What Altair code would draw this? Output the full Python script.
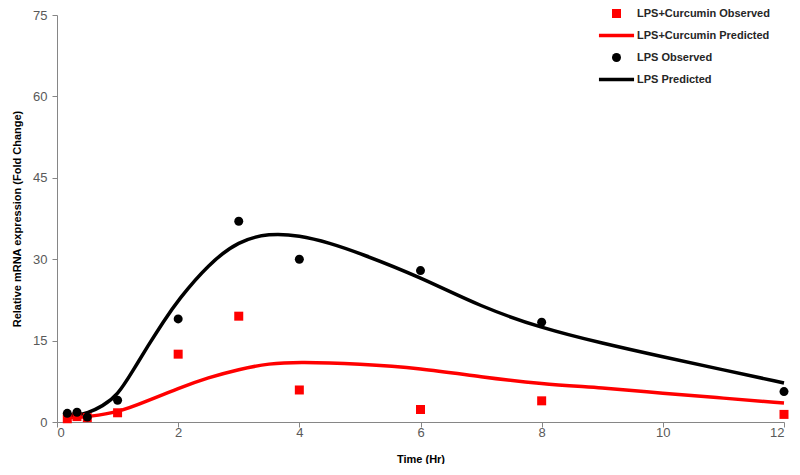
import altair as alt
import pandas as pd

# Observed data
time_obs = [0.17, 0.33, 0.5, 1, 2, 3, 4, 6, 8, 12]
lps_obs = [1.6, 1.8, 0.9, 4.0, 19.0, 37.0, 30.0, 27.9, 18.4, 5.6]
cur_obs = [0.6, 1.0, 0.8, 1.7, 12.5, 19.5, 5.9, 2.3, 3.9, 1.4]

# Predicted curves
time_lps_pred = [0.17, 0.33, 0.5, 0.75, 1, 1.25, 1.5, 1.75, 2, 2.5, 3, 3.5, 4, 4.5, 5, 6, 7, 8, 9, 10, 11, 12]
lps_pred = [1.3, 1.3, 1.6, 2.9, 4.9, 9.4, 14.0, 18.4, 22.5, 29.1, 33.4, 34.8, 34.4, 33.0, 31.1, 26.7, 21.2, 17.3, 14.5, 12.0, 9.6, 7.2]
time_cur_pred = [0.17, 0.33, 0.5, 1, 1.5, 2, 2.5, 3, 3.5, 4, 5, 6, 7, 8, 9, 10, 11, 12]
cur_pred = [0.9, 0.8, 1.0, 1.7, 3.9, 6.2, 8.2, 9.7, 10.8, 11.1, 10.7, 9.9, 8.3, 7.0, 6.3, 5.3, 4.4, 3.5]

series_names = ["LPS+Curcumin Observed", "LPS+Curcumin Predicted", "LPS Observed", "LPS Predicted"]
series_colors = ["#FF0000", "#FF0000", "#000000", "#000000"]
line_path = "M-3.9,-0.38L3.9,-0.38L3.9,0.38L-3.9,0.38Z"
series_shapes = ["square", line_path, "circle", line_path]
series_sizes = [81, 81, 125, 125]

x_ticks = [0, 2, 4, 6, 8, 10, 12]
y_ticks = [0, 15, 30, 45, 60, 75]

obs_df = pd.concat([
    pd.DataFrame({"time": time_obs, "value": cur_obs, "series": series_names[0]}),
    pd.DataFrame({"time": time_obs, "value": lps_obs, "series": series_names[2]}),
])
pred_df = pd.concat([
    pd.DataFrame({"time": time_cur_pred, "value": cur_pred, "series": series_names[1]}),
    pd.DataFrame({"time": time_lps_pred, "value": lps_pred, "series": series_names[3]}),
])

FONT = "Liberation Sans"

legend = alt.Legend(
    title=None, orient="none", legendX=554, legendY=-7,
    labelFont=FONT, labelFontSize=11, labelFontWeight="bold", labelColor="#262626",
    symbolSize=64, rowPadding=10, labelOffset=15, symbolStrokeWidth=0,
)

x_enc = alt.X("time:Q", title="Time (Hr)",
              scale=alt.Scale(domain=[0, 12], nice=False),
              axis=alt.Axis(values=x_ticks, grid=False))
y_enc = alt.Y("value:Q", title="Relative mRNA expression (Fold Change)",
              scale=alt.Scale(domain=[0, 75], nice=False),
              axis=alt.Axis(values=y_ticks, grid=False))

lines = alt.Chart(pred_df).mark_line(strokeWidth=3.5, interpolate="basis").encode(
    x=x_enc, y=y_enc,
    color=alt.Color("series:N", scale=alt.Scale(domain=series_names, range=series_colors), legend=None),
    detail="series:N",
)

points = alt.Chart(obs_df).mark_point(filled=True, opacity=1).encode(
    x=x_enc, y=y_enc,
    color=alt.Color("series:N", scale=alt.Scale(domain=series_names, range=series_colors), legend=legend),
    shape=alt.Shape("series:N", scale=alt.Scale(domain=series_names, range=series_shapes), legend=legend),
    size=alt.Size("series:N", scale=alt.Scale(domain=series_names, range=series_sizes), legend=None),
)

chart = alt.layer(lines, points).resolve_scale(
    color="independent", shape="independent", size="independent"
).resolve_legend(color="independent", shape="independent").properties(
    width=727, height=407,
    padding={"left": 3, "top": 0, "right": 0, "bottom": 0},
).configure_view(stroke=None).configure_axis(
    domainColor="#868686", tickColor="#868686", tickSize=5,
    labelFont=FONT, labelFontSize=13, labelColor="#595959",
    titleFont=FONT, titleFontSize=11, titleFontWeight="bold", titleColor="#000000",
).configure_axisY(titlePadding=10, labelPadding=5).configure_axisX(titlePadding=14, labelPadding=-1)

chart.save("out.html", embed_options={"renderer": "svg", "actions": False})
